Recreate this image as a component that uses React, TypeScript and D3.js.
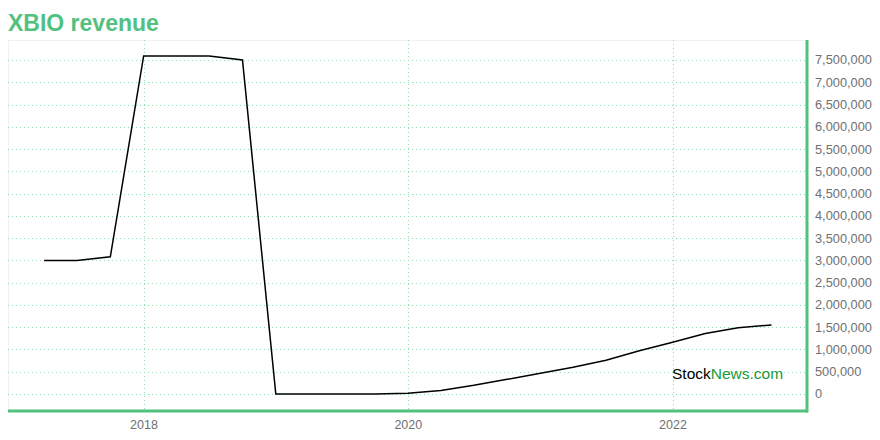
import React from "react";
import * as d3 from "d3";

const quarterDates = [
  "2017-03-31", "2017-06-30", "2017-09-30", "2017-12-31",
  "2018-03-31", "2018-06-30", "2018-09-30", "2018-12-31",
  "2019-03-31", "2019-06-30", "2019-09-30", "2019-12-31",
  "2020-03-31", "2020-06-30", "2020-09-30", "2020-12-31",
  "2021-03-31", "2021-06-30", "2021-09-30", "2021-12-31",
  "2022-03-31", "2022-06-30", "2022-09-30",
];
const revenue = [
  3000000, 3000000, 3080000, 7590000,
  7590000, 7590000, 7500000, 0,
  0, 0, 0, 15000,
  80000, 195000, 330000, 465000,
  600000, 760000, 970000, 1160000,
  1360000, 1490000, 1550000,
];
const yTicks = [0, 500000, 1000000, 1500000, 2000000, 2500000, 3000000, 3500000, 4000000, 4500000, 5000000, 5500000, 6000000, 6500000, 7000000, 7500000];
const xTickYears = ["2018", "2020", "2022"];
const title = "XBIO revenue";

const W = 880, H = 440;
const plotLeft = 8, plotRight = 806, plotTop = 40, plotBottom = 410;
const GREEN = "#52c17f";
const FONT = "'Liberation Sans', Arial, Helvetica, sans-serif";

export default function App() {
  const parse = d3.timeParse("%Y-%m-%d");
  const data = quarterDates.map((d, i) => ({ date: parse(d) as Date, value: revenue[i] }));
  const x = d3.scaleTime()
    .domain([new Date(2018, 0, 1), new Date(2022, 0, 1)])
    .range([144, 673]);
  const y = d3.scaleLinear().domain([0, 7500000]).range([394, 60]);
  const line = d3.line<{ date: Date; value: number }>()
    .x(d => x(d.date))
    .y(d => y(d.value))
    .curve(d3.curveLinear);
  const fmt = d3.format(",");
  const xTicks = xTickYears.map(yr => ({ label: yr, date: new Date(+yr, 0, 1) }));

  return (
    <svg width={W} height={H} style={{ position: "absolute", left: 0, top: 0, background: "#fff" }} fontFamily={FONT}>
      <text x={8} y={31} fill={GREEN} fontSize={23} fontWeight="bold">{title}</text>
      {/* light frame */}
      <line x1={plotLeft} x2={plotRight} y1={plotTop + 0.5} y2={plotTop + 0.5} stroke="#f0f0f0" />
      <line x1={plotLeft + 0.5} x2={plotLeft + 0.5} y1={plotTop} y2={plotBottom} stroke="#f0f0f0" />
      {/* horizontal grid */}
      {yTicks.map(t => (
        <line key={"g" + t} x1={plotLeft} x2={plotRight} y1={Math.round(y(t)) + 0.5} y2={Math.round(y(t)) + 0.5}
          stroke="#8fdcb0" strokeDasharray="1,3" />
      ))}
      {/* vertical grid */}
      {xTicks.map(t => (
        <line key={"v" + t.label} x1={Math.round(x(t.date)) + 0.5} x2={Math.round(x(t.date)) + 0.5} y1={plotTop} y2={plotBottom}
          stroke="#8fdcb0" strokeDasharray="1,3" />
      ))}
      {/* watermark */}
      <text x={672} y={379} fontSize={15.5} fill="#000">
        Stock<tspan fill="#1a9a3a">News.com</tspan>
      </text>
      {/* data line */}
      <path d={line(data) || ""} fill="none" stroke="#000" strokeWidth={1.5} />
      {/* axes */}
      <line x1={plotLeft} x2={plotRight + 2} y1={plotBottom + 1} y2={plotBottom + 1} stroke={GREEN} strokeWidth={3} />
      <line x1={plotRight + 1} x2={plotRight + 1} y1={plotTop} y2={plotBottom + 2.5} stroke={GREEN} strokeWidth={3} />
      {yTicks.map(t => (
        <text key={"yl" + t} x={815} y={y(t)} dy="0.35em" fontSize={12.8} fill="#707070">{fmt(t)}</text>
      ))}
      {xTicks.map(t => (
        <text key={"xl" + t.label} x={x(t.date)} y={429} textAnchor="middle" fontSize={12.5} fill="#707070">{t.label}</text>
      ))}
    </svg>
  );
}
